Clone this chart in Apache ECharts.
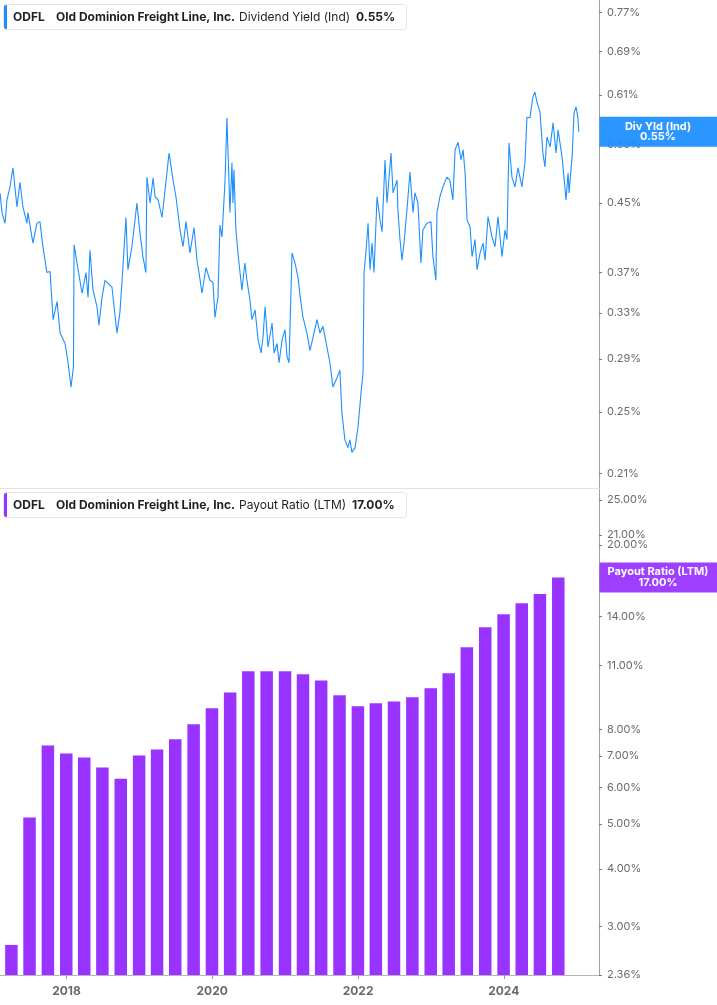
<!DOCTYPE html>
<html><head><meta charset="utf-8">
<script src="https://cdn.jsdelivr.net/npm/echarts@6/dist/echarts.min.js"></script>
<style>html,body{margin:0;padding:0;background:#fff}#c{width:717px;height:1005px}</style>
</head><body><div id="c"></div>
<script>
// ---------- DATA ----------
const ticker = 'ODFL';
const companyName = 'Old Dominion Freight Line, Inc.';
const yieldMetric = 'Dividend Yield (Ind)';
const yieldTagName = 'Div Yld (Ind)';
const yieldLast = 0.55;
const payoutMetric = 'Payout Ratio (LTM)';
const payoutLast = 17.00;

// dividend yield (%), [date, value]
const yieldSeries = [
['2017-02-02',0.463],['2017-02-12',0.438],['2017-02-27',0.425],['2017-03-09',0.454],['2017-03-24',0.471],
['2017-04-08',0.497],['2017-04-28',0.445],['2017-05-13',0.477],['2017-05-28',0.445],['2017-06-17',0.425],
['2017-06-22',0.438],['2017-07-17',0.402],['2017-08-06',0.425],['2017-08-21',0.427],['2017-09-05',0.398],
['2017-09-25',0.370],['2017-10-11',0.371],['2017-10-26',0.324],['2017-11-15',0.341],['2017-11-30',0.312],
['2017-12-25',0.303],
['2018-01-09',0.287],['2018-01-24',0.268],['2018-02-05',0.284],['2018-02-08',0.400],['2018-02-23',0.380],
['2018-03-20',0.349],['2018-04-09',0.370],['2018-04-19',0.345],['2018-04-29',0.394],['2018-05-14',0.352],
['2018-06-03',0.336],['2018-06-13',0.319],['2018-06-28',0.345],['2018-07-13',0.362],['2018-07-23',0.364],
['2018-08-17',0.355],['2018-09-11',0.312],['2018-09-26',0.331],['2018-10-11',0.376],['2018-10-26',0.432],
['2018-11-05',0.373],['2018-11-25',0.398],['2018-12-20',0.450],
['2019-01-04',0.414],['2019-01-19',0.387],['2019-02-03',0.370],['2019-02-08',0.484],['2019-02-24',0.450],
['2019-03-11',0.483],['2019-03-21',0.458],['2019-04-05',0.454],['2019-04-25',0.432],['2019-05-10',0.467],
['2019-05-30',0.518],['2019-06-19',0.480],['2019-07-04',0.457],['2019-07-24',0.417],['2019-08-08',0.398],
['2019-08-23',0.427],['2019-09-12',0.391],['2019-10-02',0.420],['2019-10-17',0.383],['2019-10-27',0.370],
['2019-11-11',0.349],['2019-12-01',0.375],['2019-12-21',0.362],
['2020-01-05',0.360],['2020-01-15',0.326],['2020-01-30',0.345],['2020-02-04',0.345],['2020-02-09',0.423],
['2020-02-19',0.409],['2020-03-05',0.476],['2020-03-15',0.572],['2020-03-20',0.523],['2020-03-30',0.438],
['2020-04-09',0.504],['2020-04-14',0.450],['2020-04-19',0.494],['2020-04-29',0.417],['2020-05-09',0.391],
['2020-05-29',0.352],['2020-06-13',0.380],['2020-06-23',0.362],['2020-07-08',0.343],['2020-07-18',0.324],
['2020-08-03',0.333],['2020-08-18',0.306],['2020-09-02',0.295],['2020-09-12',0.309],['2020-09-22',0.336],
['2020-10-07',0.300],['2020-10-27',0.321],['2020-11-06',0.295],['2020-11-21',0.303],['2020-12-01',0.287],
['2020-12-16',0.306],['2020-12-31',0.315],
['2021-01-10',0.292],['2021-01-20',0.287],['2021-01-30',0.287],['2021-02-04',0.391],['2021-02-19',0.380],
['2021-03-06',0.365],['2021-03-16',0.347],['2021-03-31',0.326],['2021-04-20',0.312],['2021-05-05',0.297],
['2021-05-20',0.308],['2021-06-09',0.324],['2021-06-24',0.312],['2021-07-09',0.318],['2021-07-29',0.300],
['2021-08-13',0.287],['2021-08-28',0.268],['2021-09-17',0.275],['2021-10-02',0.281],['2021-10-12',0.249],
['2021-10-27',0.231],['2021-11-11',0.226],['2021-11-21',0.231],['2021-12-01',0.223],['2021-12-17',0.226],
['2022-01-01',0.240],['2022-01-16',0.264],['2022-01-26',0.279],['2022-01-31',0.370],['2022-02-10',0.394],
['2022-02-20',0.425],['2022-03-02',0.373],['2022-03-12',0.402],['2022-03-22',0.370],['2022-04-06',0.458],
['2022-04-21',0.429],['2022-05-01',0.415],['2022-05-16',0.508],['2022-05-26',0.450],['2022-06-15',0.518],
['2022-06-25',0.463],['2022-07-15',0.480],['2022-07-20',0.439],['2022-07-30',0.406],['2022-08-09',0.383],
['2022-08-19',0.402],['2022-09-03',0.442],['2022-09-18',0.491],['2022-10-03',0.438],['2022-10-13',0.463],
['2022-10-28',0.450],['2022-11-12',0.380],['2022-11-22',0.417],['2022-12-12',0.425],
['2023-01-01',0.427],['2023-01-11',0.387],['2023-01-26',0.362],['2023-01-31',0.438],['2023-02-15',0.458],
['2023-03-02',0.471],['2023-03-22',0.484],['2023-04-06',0.480],['2023-04-21',0.454],['2023-05-02',0.523],
['2023-05-17',0.534],['2023-06-01',0.508],['2023-06-11',0.523],['2023-06-21',0.490],['2023-07-01',0.429],
['2023-07-16',0.421],['2023-07-26',0.387],['2023-08-10',0.406],['2023-08-20',0.373],['2023-09-04',0.391],
['2023-09-19',0.402],['2023-09-29',0.383],['2023-10-14',0.433],['2023-11-03',0.409],['2023-11-18',0.398],
['2023-12-03',0.433],['2023-12-23',0.387],
['2024-01-07',0.417],['2024-01-17',0.406],['2024-01-24',0.406],['2024-01-27',0.533],['2024-02-11',0.484],
['2024-02-26',0.471],['2024-03-12',0.497],['2024-04-01',0.471],['2024-04-16',0.504],['2024-04-26',0.573],
['2024-05-11',0.572],['2024-05-26',0.607],['2024-06-05',0.615],['2024-06-15',0.598],['2024-06-30',0.582],
['2024-07-15',0.518],['2024-07-25',0.498],['2024-08-04',0.542],['2024-08-20',0.527],['2024-09-04',0.564],
['2024-09-19',0.518],['2024-09-29',0.553],['2024-10-19',0.512],['2024-10-29',0.512],['2024-11-08',0.454],
['2024-11-18',0.490],['2024-11-23',0.463],['2024-12-08',0.512],['2024-12-18',0.580],['2024-12-28',0.590],
['2025-01-06',0.573],['2025-01-11',0.550]
];

// payout ratio LTM (%), quarterly
const payoutQuarters = [
'2017-03-31','2017-06-30','2017-09-30','2017-12-31',
'2018-03-31','2018-06-30','2018-09-30','2018-12-31',
'2019-03-31','2019-06-30','2019-09-30','2019-12-31',
'2020-03-31','2020-06-30','2020-09-30','2020-12-31',
'2021-03-31','2021-06-30','2021-09-30','2021-12-31',
'2022-03-31','2022-06-30','2022-09-30','2022-12-31',
'2023-03-31','2023-06-30','2023-09-30','2023-12-31',
'2024-03-31','2024-06-30','2024-09-30'
];
const payoutValues = [
2.74, 5.16, 7.38, 7.09,
6.95, 6.62, 6.26, 7.02,
7.24, 7.61, 8.20, 8.88,
9.61, 10.67, 10.67, 10.67,
10.51, 10.20, 9.47, 8.97,
9.10, 9.19, 9.38, 9.81,
10.57, 12.03, 13.29, 14.17,
14.97, 15.66, 17.00
];

const yieldTicks = [0.21, 0.25, 0.29, 0.33, 0.37, 0.45, 0.53, 0.61, 0.69, 0.77];
const payoutTicks = [2.36, 3, 4, 5, 6, 7, 8, 11, 14, 17, 20, 21, 25];
const yearTicks = [2018, 2020, 2022, 2024];

// ---------- CHART ----------
const BLUE = '#1e8fff', PURPLE = '#9933ff';
const FONT = 'Inter, "Noto Sans", sans-serif';
const ln = Math.log;
const ts = s => { const p = s.split('-').map(Number); return new Date(p[0], p[1] - 1, p[2]).getTime(); };
const chart = echarts.init(document.getElementById('c'), null, {renderer: 'canvas'});

const xMin = ts('2017-02-02');
const xMax = ts('2025-04-22');
const yearTs = yearTicks.map(y => new Date(y, 0, 1).getTime());

const yieldData = yieldSeries.map(d => [ts(d[0]), ln(d[1])]);
const payoutData = payoutQuarters.map((q, i) => [ts(q), ln(payoutValues[i])]);

const yAxisCommon = {
  type: 'value', position: 'right', scale: true,
  axisLine: {show: true, lineStyle: {color: '#a0a0a0', width: 1}},
  splitLine: {show: false},
};

chart.setOption({
  animation: false,
  grid: [
    {left: 0, top: 0, width: 599, height: 488},
    {left: 0, top: 489, width: 599, height: 486}
  ],
  xAxis: [
    {type: 'value', gridIndex: 0, min: xMin, max: xMax,
     axisLine: {show: true, lineStyle: {color: '#e2e2e2'}}, axisTick: {show: false},
     axisLabel: {show: false}, splitLine: {show: false}},
    {type: 'value', gridIndex: 1, min: xMin, max: xMax,
     axisLine: {show: true, lineStyle: {color: '#b5b5b5'}},
     axisTick: {show: true, customValues: yearTs, length: 4, lineStyle: {color: '#999'}},
     axisLabel: {customValues: yearTs, formatter: v => String(new Date(v).getFullYear()),
                 color: '#6a6a6a', fontWeight: 'bold', fontSize: 12, fontFamily: FONT, margin: 10},
     splitLine: {show: false}}
  ],
  yAxis: [
    Object.assign({}, yAxisCommon, {
      gridIndex: 0, min: ln(0.2017), max: ln(0.797),
      axisTick: {show: true, customValues: yieldTicks.map(ln), length: 3, lineStyle: {color: '#777'}},
      axisLabel: {customValues: yieldTicks.map(ln), formatter: v => Math.exp(v).toFixed(2) + '%',
                  color: '#6a6a6a', fontSize: 11, fontFamily: FONT, margin: 8}
    }),
    Object.assign({}, yAxisCommon, {
      gridIndex: 1, min: ln(2.36), max: ln(26.4),
      axisTick: {show: true, customValues: payoutTicks.map(ln), length: 3, lineStyle: {color: '#777'}},
      axisLabel: {customValues: payoutTicks.map(ln), formatter: v => Math.exp(v).toFixed(2) + '%',
                  color: '#6a6a6a', fontSize: 11, fontFamily: FONT, margin: 8}
    })
  ],
  series: [
    {type: 'line', xAxisIndex: 0, yAxisIndex: 0, data: yieldData, showSymbol: false,
     lineStyle: {color: BLUE, width: 1.1}, clip: true},
    {type: 'bar', xAxisIndex: 1, yAxisIndex: 1, data: payoutData, barWidth: 12.5,
     itemStyle: {color: PURPLE}, clip: true}
  ]
});

// header boxes and value tags
function header(y0, color, metric, last, lastX) {
  const cy = y0 + 13;
  return [
    {type: 'rect', z: 100, shape: {x: 3.5, y: y0 + 0.5, width: 403, height: 25, r: 3},
     style: {fill: '#fff', stroke: '#e4e4e4', lineWidth: 1}},
    {type: 'rect', z: 101, shape: {x: 4, y: y0 + 1, width: 3, height: 24, r: [2, 0, 0, 2]},
     style: {fill: color}},
    {type: 'text', z: 102, style: {x: 13, y: cy, text: ticker, fill: '#1f1f1f',
      font: 'bold 12px ' + FONT, verticalAlign: 'middle'}},
    {type: 'text', z: 102, style: {x: 56, y: cy, text: companyName, fill: '#1f1f1f',
      font: 'bold 12px ' + FONT, verticalAlign: 'middle'}},
    {type: 'text', z: 102, style: {x: 239, y: cy, text: metric, fill: '#1f1f1f',
      font: '12px ' + FONT, verticalAlign: 'middle'}},
    {type: 'text', z: 102, style: {x: lastX, y: cy,
      text: last, fill: '#1f1f1f', font: 'bold 12px ' + FONT, verticalAlign: 'middle'}}
  ];
}
function tag(yc, color, name, val) {
  return [
    {type: 'rect', z: 100, shape: {x: 599.5, y: yc - 15, width: 118, height: 30},
     style: {fill: color, opacity: 0.94}},
    {type: 'text', z: 101, style: {x: 658, y: yc - 5.5, text: name, fill: '#fff',
      font: 'bold 11px ' + FONT, align: 'center', verticalAlign: 'middle'}},
    {type: 'text', z: 101, style: {x: 658, y: yc + 5, text: val, fill: '#fff',
      font: 'bold 11px ' + FONT, align: 'center', verticalAlign: 'middle'}}
  ];
}
const yTag1 = chart.convertToPixel({yAxisIndex: 0}, ln(yieldLast));
const yTag2 = chart.convertToPixel({yAxisIndex: 1}, ln(payoutLast));
chart.setOption({
  graphic: [].concat(
    header(4, BLUE, yieldMetric, yieldLast.toFixed(2) + '%', 356),
    header(492, PURPLE, payoutMetric, payoutLast.toFixed(2) + '%', 352),
    tag(yTag1, BLUE, yieldTagName, yieldLast.toFixed(2) + '%'),
    tag(yTag2, PURPLE, payoutMetric, payoutLast.toFixed(2) + '%')
  )
});
</script></body></html>
